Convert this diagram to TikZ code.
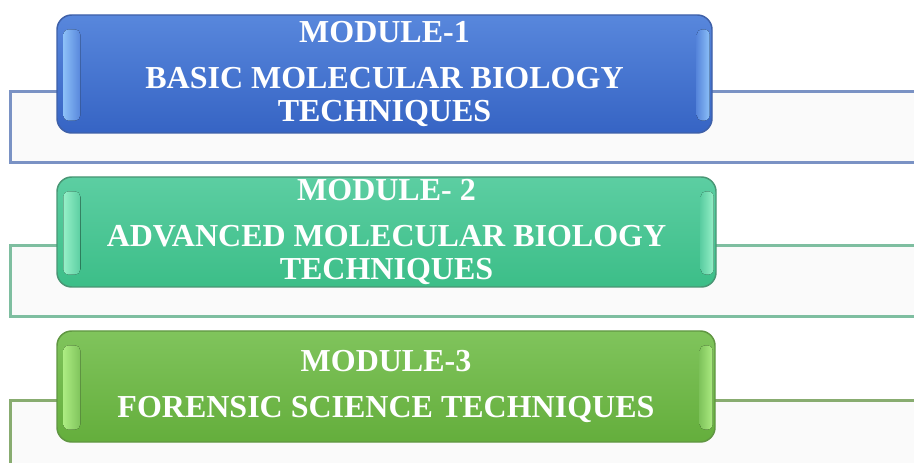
\documentclass[tikz,border=0pt]{standalone}
\usepackage{fontspec}
\setmainfont{Liberation Serif}
\usetikzlibrary{calc}
\tikzset{every picture/.style={line width=0.75pt}}
\definecolor{blueTop}{RGB}{88,135,220}
\definecolor{blueBot}{RGB}{54,100,196}
\definecolor{blueEdge}{RGB}{62,96,168}
\definecolor{blueLite}{RGB}{140,192,248}
\definecolor{blueBar}{RGB}{122,146,196}
\definecolor{tealTop}{RGB}{92,206,162}
\definecolor{tealBot}{RGB}{60,190,136}
\definecolor{tealEdge}{RGB}{72,150,116}
\definecolor{tealLite}{RGB}{150,240,200}
\definecolor{tealBar}{RGB}{126,190,160}
\definecolor{leafTop}{RGB}{128,196,92}
\definecolor{leafBot}{RGB}{100,174,60}
\definecolor{leafEdge}{RGB}{96,150,66}
\definecolor{leafLite}{RGB}{172,236,130}
\definecolor{leafBar}{RGB}{136,172,112}
\definecolor{barFill}{RGB}{250,250,250}

\begin{document}
\begin{tikzpicture}[x=0.75pt,y=0.75pt,yscale=-1,xscale=1,
  backbar/.style={draw=#1, line width=2.25pt, fill=barFill},
  modbox/.style={rounded corners=11pt, draw=#1Edge, line width=1.1pt,
    top color=#1Top, bottom color=#1Bot, text=white, align=center, inner sep=0pt,
    font=\bfseries\fontsize{24}{25}\selectfont},
  gloss/.style={rounded corners=4pt, draw=none}]
\useasboundingbox (0,0) rectangle (914,463);
\clip (0,0) rectangle (914,463);

%Back bars
\draw [backbar=blueBar] (10,92) rectangle (925,163);
\draw [backbar=tealBar] (10,246) rectangle (925,317);
\draw [backbar=leafBar] (10,400) rectangle (925,480);

%Module boxes
\node [modbox=blue, minimum width=491.25pt, minimum height=88.5pt] (mod1) at (384.5,74)
  {MODULE-1\\[9.5pt]BASIC MOLECULAR BIOLOGY\\TECHNIQUES};
\node [modbox=teal, minimum width=494.25pt, minimum height=82.5pt] (mod2) at (386.5,232)
  {MODULE- 2\\[9.5pt]ADVANCED MOLECULAR BIOLOGY\\TECHNIQUES};
\node [modbox=leaf, minimum width=493.5pt, minimum height=83.25pt] (mod3) at (386,386.5)
  {MODULE-3\\[9.5pt]FORENSIC SCIENCE TECHNIQUES};

%Gloss stripes
\fill [gloss, left color=blueLite, right color=blueTop] ($(mod1.north west)+(7,15)$) rectangle ($(mod1.south west)+(24,-13)$);
\fill [gloss, left color=blueTop, right color=blueLite] ($(mod1.north east)+(-16,15)$) rectangle ($(mod1.south east)+(-3,-13)$);
\fill [gloss, left color=tealLite, right color=tealTop] ($(mod2.north west)+(7,15)$) rectangle ($(mod2.south west)+(24,-13)$);
\fill [gloss, left color=tealTop, right color=tealLite] ($(mod2.north east)+(-16,15)$) rectangle ($(mod2.south east)+(-3,-13)$);
\fill [gloss, left color=leafLite, right color=leafTop] ($(mod3.north west)+(7,15)$) rectangle ($(mod3.south west)+(24,-13)$);
\fill [gloss, left color=leafTop, right color=leafLite] ($(mod3.north east)+(-16,15)$) rectangle ($(mod3.south east)+(-3,-13)$);

\end{tikzpicture}
\end{document}
